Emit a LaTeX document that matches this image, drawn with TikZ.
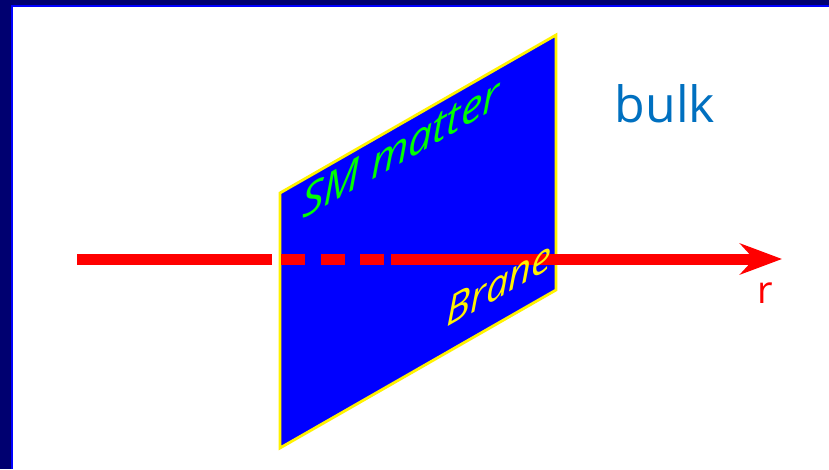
\documentclass[tikz,border=0pt]{standalone}
\usepackage{fontspec}
\setmainfont{Open Sans}
\usepackage{xcolor}
\usepackage{tikz}
\usetikzlibrary{arrows.meta}

\definecolor{framenavy}{RGB}{0,0,112}
\definecolor{bulkblue}{RGB}{0,112,192}
\definecolor{smgreen}{RGB}{0,255,0}

\begin{document}
\begin{tikzpicture}[x=1pt, y=1pt,
  label/.style={inner sep=0pt},
  axis/.style={red, line width=11pt}]
\useasboundingbox (0,0) rectangle (829,469);
% Frame
\fill[framenavy] (0,0) rectangle (829,469);
\fill[blue] (11,0) rectangle (829,464);
\fill[white] (13,0) rectangle (829,462);

% Brane
\filldraw[fill=blue, draw=yellow, line width=2.8pt] (280,21) -- (280,276) -- (556,434) -- (556,179) -- cycle;

% Radial direction
\coordinate (rstart) at (77,210);
\coordinate (rbehind) at (272,210);
\coordinate (dashstart) at (281,210);
\coordinate (dashend) at (391,210);
\coordinate (rtip) at (782,210);
\draw[axis] (rstart) -- (rbehind);
\draw[axis, dash pattern=on 24pt off 15.5pt] (dashstart) -- (dashend);
\draw[axis, -{Stealth[length=42pt, width=31pt, inset=14pt]}] (dashend) -- (rtip);

% Labels
\node[label, anchor=base, text=bulkblue, font=\fontsize{50}{50}\selectfont] (bulk) at (665,346) {bulk};
\node[label, anchor=base, text=red, font=\fontsize{38}{38}\selectfont] (r) at (765,166) {r};
\node[label, anchor=base west, yslant=0.572, text=smgreen, font=\itshape\fontsize{43}{43}\selectfont] (sm) at (302,249) {SM matter};
\node[label, anchor=base west, yslant=0.572, text=yellow, font=\itshape\fontsize{40}{40}\selectfont] (brane) at (446,141) {Brane};
\end{tikzpicture}
\end{document}
